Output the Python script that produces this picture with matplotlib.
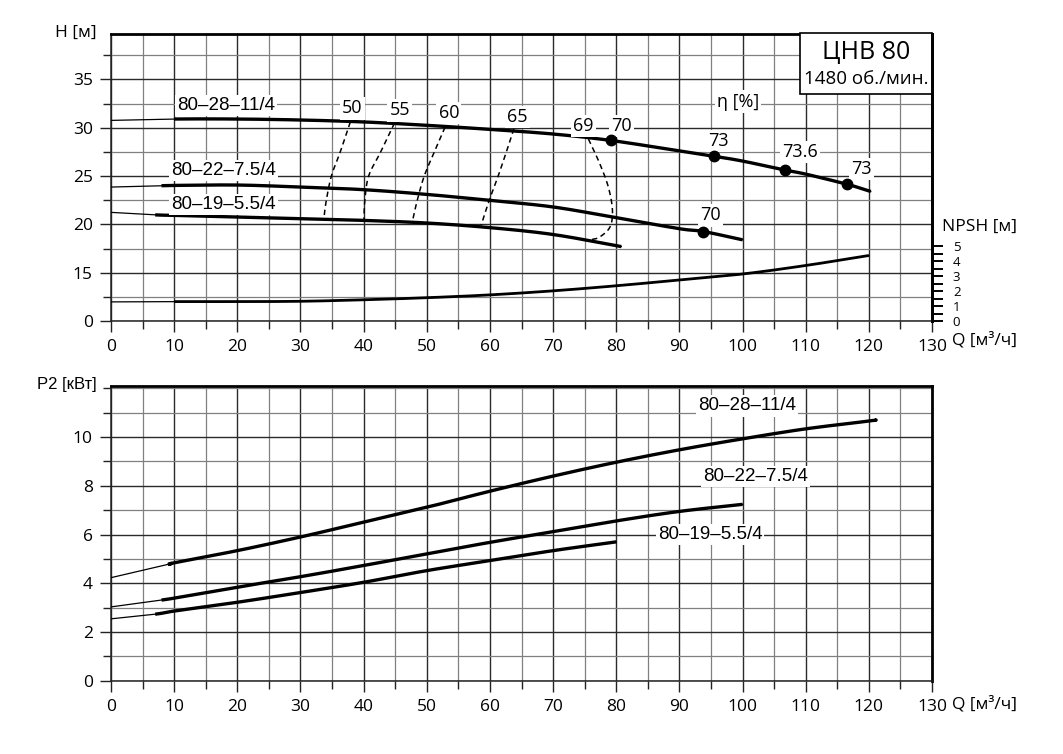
import numpy as np
import matplotlib
matplotlib.use("Agg")
import matplotlib.pyplot as plt
from matplotlib.patches import Rectangle
from matplotlib.ticker import MultipleLocator, FixedLocator

plt.rcParams['font.family'] = ['Open Sans', 'DejaVu Sans']
LBL = ['Liberation Sans', 'DejaVu Sans']

# ---- H(Q) curves, upper chart ----
q28 = [0, 10, 20, 30, 40, 50, 60, 70, 79.2, 90, 95.5, 100, 106.7, 110, 116.6, 120.3]
h28 = [30.76, 30.9, 30.9, 30.8, 30.6, 30.25, 29.83, 29.35, 28.68, 27.6, 27.05, 26.55, 25.62, 25.2, 24.14, 23.4]
q22 = [0, 8, 10, 20, 30, 40, 50, 60, 70, 80, 90, 93.8, 100]
h22 = [23.86, 24.0, 24.03, 24.07, 23.86, 23.59, 23.1, 22.48, 21.8, 20.69, 19.55, 19.26, 18.4]
q19 = [0, 7, 10, 20, 30, 40, 50, 60, 70, 80.8]
h19 = [21.24, 20.98, 20.93, 20.76, 20.59, 20.41, 20.14, 19.66, 18.95, 17.7]
h_start = [10, 8, 7]

# NPSH
q_npsh = [0, 10, 20, 30, 40, 50, 60, 70, 80, 90, 100, 110, 120]
npsh = [1.28, 1.3, 1.3, 1.32, 1.42, 1.56, 1.75, 2.02, 2.36, 2.75, 3.15, 3.72, 4.39]

# efficiency iso-lines
eta_lines = {
    '50': ([37.9, 36.3, 34.9, 34.1, 33.7], [30.6, 27.5, 25, 22.5, 20.6]),
    '55': ([44.9, 42.7, 40.8, 40.2, 40.05], [30.5, 27.5, 25, 22.5, 20.5]),
    '60': ([52.9, 51.2, 49.6, 48.5, 47.7], [30.07, 27.5, 25, 22.5, 20.24]),
    '65': ([63.8, 62.6, 61.3, 59.9, 58.6], [29.9, 27.5, 25, 22.5, 19.9]),
    '69': ([75.6, 77.4, 78.75, 79.4, 79.0, 77.4, 76.1], [28.83, 26.26, 23.85, 21.44, 19.72, 18.7, 18.42]),
}
eta_lbl_pos = {'50': (38.2, 32.0), '55': (45.7, 31.8), '60': (53.5, 31.5), '65': (64.3, 31.1), '69': (74.8, 30.2)}

# efficiency points on curves
dot_q = [79.2, 95.5, 106.7, 116.6, 93.8]
dot_h = [28.68, 27.05, 25.62, 24.14, 19.26]
dot_txt = ['70', '73', '73.6', '73', '70']
dot_lbl_q = [80.8, 96.2, 109.1, 118.8, 94.85]
dot_lbl_h = [30.2, 28.66, 27.5, 25.7, 20.93]

# ---- P2(Q) curves, lower chart ----
p28_q = [0, 9, 10, 20, 30, 40, 50, 60, 70, 80, 90, 100, 110, 120, 121.2]
p28 = [4.23, 4.77, 4.84, 5.34, 5.9, 6.51, 7.12, 7.78, 8.4, 8.97, 9.48, 9.93, 10.34, 10.66, 10.71]
p22_q = [0, 8, 10, 20, 30, 40, 50, 60, 70, 80, 90, 100]
p22 = [3.03, 3.31, 3.39, 3.84, 4.27, 4.73, 5.21, 5.68, 6.12, 6.56, 6.95, 7.24]
p19_q = [0, 7, 10, 20, 30, 40, 50, 60, 70, 80]
p19 = [2.54, 2.73, 2.86, 3.22, 3.62, 4.04, 4.52, 4.93, 5.34, 5.70]
p_start = [9, 8, 7]

names = ['80–28–11/4', '80–22–7.5/4', '80–19–5.5/4']

fig = plt.figure(figsize=(10.63, 7.54), dpi=100)
ax1 = fig.add_axes([0.1044, 0.5743, 0.7724, 0.3806])
ax2 = fig.add_axes([0.1044, 0.0972, 0.7724, 0.3909])

white = dict(facecolor='white', edgecolor='none', pad=1.5)


def smooth(x, y, n=16):
    # catmull-rom path through the read points, only for drawing
    x = np.asarray(x, float)
    y = np.asarray(y, float)
    px = np.concatenate([[2 * x[0] - x[1]], x, [2 * x[-1] - x[-2]]])
    py = np.concatenate([[2 * y[0] - y[1]], y, [2 * y[-1] - y[-2]]])
    t = np.linspace(0, 1, n, endpoint=False)
    ox, oy = [], []
    for i in range(1, len(px) - 2):
        for arr, out in ((px, ox), (py, oy)):
            p0, p1, p2, p3 = arr[i - 1], arr[i], arr[i + 1], arr[i + 2]
            out.extend(0.5 * (2 * p1 + (-p0 + p2) * t + (2 * p0 - 5 * p1 + 4 * p2 - p3) * t ** 2
                              + (-p0 + 3 * p1 - 3 * p2 + p3) * t ** 3))
    ox.append(x[-1])
    oy.append(y[-1])
    return np.array(ox), np.array(oy)


def style_axes(ax):
    ax.set_xlim(0, 130)
    ax.xaxis.set_major_locator(MultipleLocator(10))
    ax.xaxis.set_minor_locator(MultipleLocator(5))
    ax.grid(which='major', color='#2a2a2a', lw=1.0)
    ax.grid(which='minor', color='#808080', lw=0.9)
    ax.set_axisbelow(True)
    ax.tick_params(which='major', direction='out', length=8, width=1, labelsize=12.5,
                   color='#222', pad=5)
    ax.tick_params(which='minor', direction='out', length=6, width=1, color='#222')
    for s in ['top', 'right']:
        ax.spines[s].set_linewidth(2.0)
    for s in ['left', 'bottom']:
        ax.spines[s].set_linewidth(1.1)
        ax.spines[s].set_color('#222')


def curve(ax, x, y, start, lw=2.4):
    sx, sy = smooth(x, y)
    ax.plot(sx, sy, color='black', lw=0.9, zorder=4)
    m = sx >= start
    ax.plot(sx[m], sy[m], color='black', lw=lw, zorder=4, solid_capstyle='butt')


# upper chart
style_axes(ax1)
ax1.set_ylim(10, 39.7)
ax1.set_yticks([10, 15, 20, 25, 30, 35])
ax1.set_yticklabels(['0', '15', '20', '25', '30', '35'])
ax1.yaxis.set_minor_locator(MultipleLocator(2.5))

for (qq, hh), st in zip([(q28, h28), (q22, h22), (q19, h19)], h_start):
    curve(ax1, qq, hh, st)

for key, (qq, hh) in eta_lines.items():
    sx, sy = smooth(qq, hh)
    ax1.plot(sx, sy, color='black', lw=1.1, ls=(0, (3.5, 2.5)), zorder=3)
    lx, ly = eta_lbl_pos[key]
    ax1.text(lx, ly, key, ha='center', va='center', fontsize=13, bbox=white, zorder=5)

ax1.plot(dot_q, dot_h, 'o', color='black', ms=7.5, zorder=6)
for t, lx, ly in zip(dot_txt, dot_lbl_q, dot_lbl_h):
    ax1.text(lx, ly, t, ha='center', va='center', fontsize=13, bbox=white, zorder=5)
ax1.text(99.3, 32.7, 'η [%]', ha='center', va='center', fontsize=13, bbox=white, zorder=5)

for t, lx, ly in zip(names, [18.2, 17.8, 17.8], [32.34, 25.55, 22.03]):
    ax1.text(lx, ly, t, ha='center', va='center', fontsize=13.5, family=LBL,
             bbox=white, zorder=5)

# title box
ax1.add_patch(Rectangle((109.1, 33.47), 20.9, 6.3, facecolor='white', edgecolor='black',
                        lw=1.2, zorder=7, clip_on=False))
ax1.text(119.6, 37.75, 'ЦНВ 80', ha='center', va='center', fontsize=18, zorder=8)
ax1.text(119.6, 35.0, '1480 об./мин.', ha='center', va='center', fontsize=13.5, zorder=8)

# NPSH axis on the right
axn = ax1.twinx()
axn.set_ylim(0, 19.24)
axn.yaxis.set_major_locator(FixedLocator([0, 1, 2, 3, 4, 5]))
axn.yaxis.set_minor_locator(FixedLocator([0.5, 1.5, 2.5, 3.5, 4.5]))
axn.tick_params(which='both', direction='out', length=8, width=1.4, labelsize=9.5, pad=7)
for s in ['top', 'left', 'bottom']:
    axn.spines[s].set_visible(False)
axn.spines['right'].set_linewidth(2.0)
curve(axn, q_npsh, npsh, 10, lw=2.0)

# lower chart
style_axes(ax2)
ax2.set_ylim(0, 12.1)
ax2.set_yticks([0, 2, 4, 6, 8, 10])
ax2.yaxis.set_minor_locator(MultipleLocator(1))
for (qq, pp), st in zip([(p28_q, p28), (p22_q, p22), (p19_q, p19)], p_start):
    curve(ax2, qq, pp, st)
for t, lx, ly in zip(names, [100.7, 102.0, 94.85], [11.28, 8.38, 6.02]):
    ax2.text(lx, ly, t, ha='center', va='center', fontsize=13.5, family=LBL,
             bbox=white, zorder=5)

# axis captions
fig.text(76 / 1063, 1 - 33 / 754, 'H [м]', ha='center', va='center', fontsize=12.5)
fig.text(979 / 1063, 1 - 227 / 754, 'NPSH [м]', ha='center', va='center', fontsize=12.5)
fig.text(984 / 1063, 1 - 340 / 754, 'Q [м³/ч]', ha='center', va='center', fontsize=12.5)
fig.text(67 / 1063, 1 - 385 / 754, 'P2 [кВт]', ha='center', va='center', fontsize=12, family=LBL)
fig.text(984 / 1063, 1 - 704 / 754, 'Q [м³/ч]', ha='center', va='center', fontsize=12.5)

fig.savefig('out.png', dpi=100, facecolor='white')
